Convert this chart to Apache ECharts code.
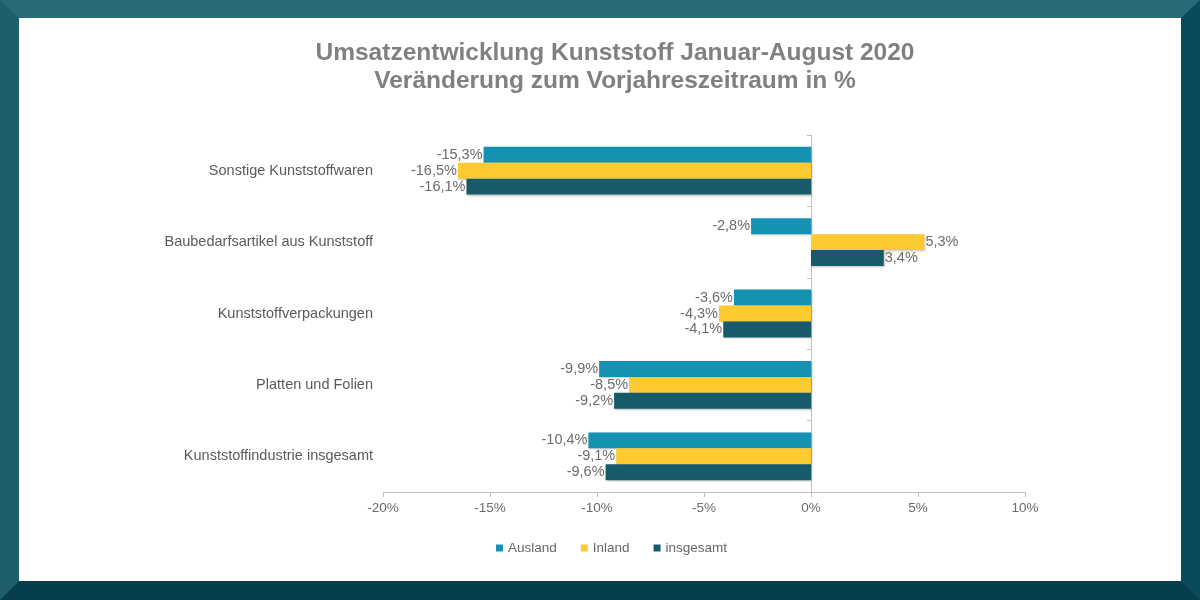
<!DOCTYPE html>
<html>
<head>
<meta charset="utf-8">
<script src="https://cdn.jsdelivr.net/npm/echarts@6/dist/echarts.min.js"></script>
<style>
  html, body { margin: 0; padding: 0; }
  #frame {
    position: absolute; left: 0; top: 0; width: 1200px; height: 600px;
    box-sizing: border-box; background: #fff;
    border-style: solid;
    border-width: 18px 19px 19px 19px;
    border-color: #2a6b7a #0b4a5a #063e4e #1e5e6d;
  }
  #chart { position: absolute; left: 0; top: 0; width: 1200px; height: 600px; }
</style>
</head>
<body>
<div id="frame"></div>
<div id="chart"></div>
<script>
// Kategorien von oben nach unten
const categories = [
  'Sonstige Kunststoffwaren',
  'Baubedarfsartikel aus Kunststoff',
  'Kunststoffverpackungen',
  'Platten und Folien',
  'Kunststoffindustrie insgesamt'
];
const ausland   = [-15.3, -2.8, -3.6, -9.9, -10.4];
const inland    = [-16.5,  5.3, -4.3, -8.5,  -9.1];
const insgesamt = [-16.1,  3.4, -4.1, -9.2,  -9.6];

const fmt = v => v.toFixed(1).replace('.', ',') + '%';

function makeSeries(name, data, color) {
  return {
    name: name,
    type: 'bar',
    yAxisIndex: 0,
    barGap: '0%',
    barCategoryGap: '33%',
    itemStyle: { color: color, shadowColor: 'rgba(0,0,0,0.25)', shadowBlur: 2, shadowOffsetX: 1, shadowOffsetY: 1 },
    label: {
      show: true,
      color: '#6b6b6b',
      fontSize: 14.5,
      formatter: p => fmt(p.value)
    },
    data: data.map(v => ({
      value: v,
      label: { position: v < 0 ? 'left' : 'right', distance: 1 }
    }))
  };
}

var myChart = echarts.init(document.getElementById('chart'));
const option = {
  backgroundColor: 'transparent',
  textStyle: { fontFamily: 'Liberation Sans' },
  title: {
    text: 'Umsatzentwicklung Kunststoff Januar-August 2020\nVeränderung zum Vorjahreszeitraum in %',
    left: 610,
    textAlign: 'center',
    top: 34,
    textStyle: { color: '#808080', fontSize: 24.5, fontWeight: 'bold', lineHeight: 28, fontFamily: 'Liberation Sans' }
  },
  legend: {
    bottom: 40,
    left: 491,
    itemWidth: 7,
    itemHeight: 7,
    itemGap: 24,
    icon: 'rect',
    textStyle: { color: '#666', fontSize: 13.5 },
    data: ['Ausland', 'Inland', 'insgesamt']
  },
  grid: { left: 383, right: 175, top: 135, bottom: 108 },
  xAxis: {
    type: 'value',
    min: -20,
    max: 10,
    interval: 5,
    splitLine: { show: false },
    axisLine: { show: true, lineStyle: { color: '#bfbfbf' } },
    axisTick: { show: true, length: 5, lineStyle: { color: '#bfbfbf' } },
    axisLabel: { color: '#6b6b6b', fontSize: 13.5, margin: 9, formatter: v => v + '%' }
  },
  yAxis: [
    {
      type: 'category',
      data: categories,
      inverse: true,
      position: 'left',
      axisLine: { show: true, onZero: false, lineStyle: { color: 'transparent' } },
      axisTick: { show: false },
      axisLabel: { color: '#5a5a5a', fontSize: 14.5, margin: 10 }
    },
    {
      type: 'category',
      data: categories,
      inverse: true,
      position: 'left',
      axisLine: { show: true, onZero: true, lineStyle: { color: '#bfbfbf' } },
      axisTick: { show: true, length: 4, lineStyle: { color: '#bfbfbf' } },
      axisLabel: { show: false }
    }
  ],
  series: [
    makeSeries('Ausland', ausland, '#1591b1'),
    makeSeries('Inland', inland, '#fdca30'),
    makeSeries('insgesamt', insgesamt, '#175b6b')
  ]
};
myChart.setOption(option);
</script>
</body>
</html>
